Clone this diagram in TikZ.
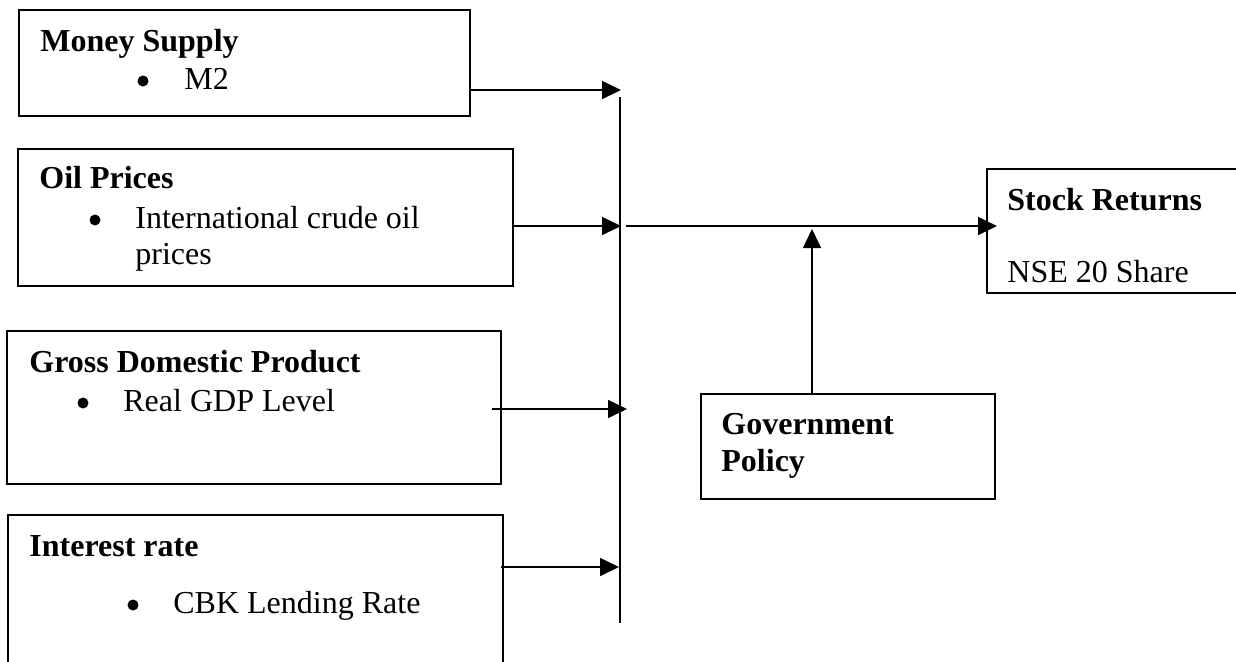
\documentclass[tikz,border=0pt]{standalone}
\usepackage{fontspec}
\setmainfont{Liberation Serif}
\usetikzlibrary{fit,arrows.meta}
\begin{document}
\begin{tikzpicture}[x=0.5pt,y=-0.5pt,
  box/.style={draw, line width=1pt, inner sep=0pt},
  title/.style={font=\fontsize{16}{19}\selectfont\bfseries, inner sep=0pt, anchor=base west},
  body/.style={font=\fontsize{16}{19}\selectfont, inner sep=0pt, anchor=base west},
  bul/.style={circle, fill=black, inner sep=0pt, minimum size=5.5pt},
  conn/.style={line width=0.8pt},
  arr/.style={line width=0.8pt, -{Triangle[length=9.5pt,width=9pt]}}]
\useasboundingbox (0,0) rectangle (1236,661);
\clip (0,0) rectangle (1236,661);

% boxes
\node[box, fit={(19,10) (470,116)}] (money) {};
\node[box, fit={(18,149) (513,286)}] (oil) {};
\node[box, fit={(7,331) (501,484)}] (gdp) {};
\node[box, fit={(8,515) (503,720)}] (interest) {};
\node[box, fit={(987,169) (1300,293)}] (stock) {};
\node[box, fit={(701,394) (995,499)}] (gov) {};

% texts
\node[title] (moneyT) at (40,51) {Money Supply};
\node[bul] (moneyB) at (143,81) {};
\node[body] (moneyL) at (184,89) {M2};

\node[title] (oilT) at (39,188) {Oil Prices};
\node[bul] (oilB) at (95,220) {};
\node[body] (oilL1) at (135,228) {International crude oil};
\node[body] (oilL2) at (135,264) {prices};

\node[title] (gdpT) at (29,372) {Gross Domestic Product};
\node[bul] (gdpB) at (83,403) {};
\node[body] (gdpL) at (123,411) {Real GDP Level};

\node[title] (intT) at (29,556) {Interest rate};
\node[bul] (intB) at (133,605) {};
\node[body] (intL) at (173,613) {CBK Lending Rate};

\node[title] (stockT) at (1007,210) {Stock Returns};
\node[body] (stockL) at (1007,282) {NSE 20 Share};

\node[title] (govT1) at (721,434) {Government};
\node[title] (govT2) at (721,471) {Policy};

% bus line
\coordinate (busTop) at (620,97);
\coordinate (busBot) at (620,623);
\draw[conn] (busTop) -- (busBot);

% arrows into the bus
\coordinate (m1) at (621,90);
\draw[arr] (money.east |- m1) -- (m1);
\coordinate (o1) at (621,226);
\draw[arr] (oil.east |- o1) -- (o1);
\coordinate (g1) at (627,409);
\draw[arr] ([xshift=-5pt]gdp.east |- g1) -- (g1);
\coordinate (i1) at (619,567);
\draw[arr] ([xshift=-1.5pt]interest.east |- i1) -- (i1);

% main arrow
\coordinate (h0) at (626,226);
\draw[arr] (h0) -- ([xshift=5.5pt]stock.west |- h0);

% government arrow
\coordinate (p1) at (812,229);
\draw[arr] (gov.north -| p1) -- (p1);
\end{tikzpicture}
\end{document}
